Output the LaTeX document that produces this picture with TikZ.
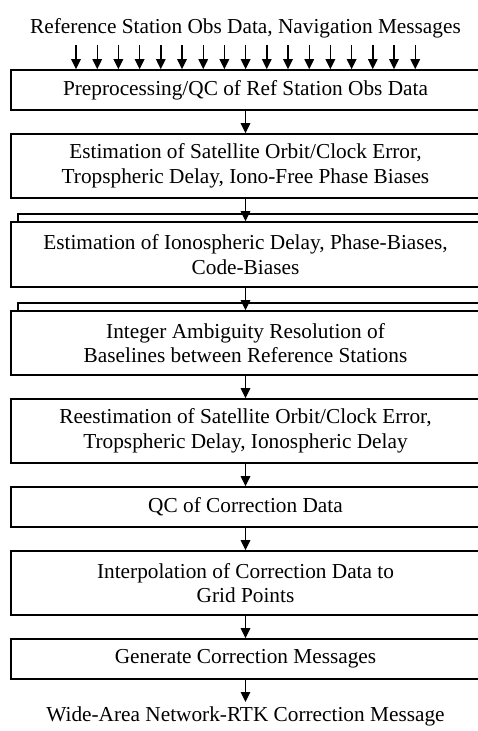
\documentclass[tikz,border=0pt]{standalone}
\usepackage{fontspec}
\setmainfont{Liberation Serif}
\usetikzlibrary{arrows.meta,positioning}

\begin{document}
\begin{tikzpicture}[x=1pt,y=-1pt,font=\fontsize{21.3}{24.5}\selectfont,
  boite/.style={draw,line width=1.6pt,fill=white,align=center,inner sep=0pt,minimum width=469pt},
  fleche/.style={line width=1.4pt,-{Triangle[length=10pt,width=9.5pt]}}]
\useasboundingbox (0,0) rectangle (478,731);
\def\cx{245.5}
\node[anchor=base] (entree) at (\cx,33) {Reference Station Obs Data, Navigation Messages};
\node[boite,minimum height=40pt] (preqc) at (\cx,90) {Preprocessing/QC of Ref Station Obs Data};
\node[boite,minimum height=64pt] (orbite) at (\cx,166) {Estimation of Satellite Orbit/Clock Error,\\ Tropspheric Delay, Iono-Free Phase Biases};
\node[boite,minimum height=65pt] (ionoA) at (\cx+7,246.5) {};
\node[boite,minimum height=65pt] (iono) at (\cx,254.5) {Estimation of Ionospheric Delay, Phase-Biases,\\ Code-Biases};
\node[boite,minimum height=64pt] (ambA) at (\cx+7,335) {};
\node[boite,minimum height=64pt] (amb) at (\cx,343) {Integer Ambiguity Resolution of\\ Baselines between Reference Stations};
\node[boite,minimum height=64pt] (reest) at (\cx,431) {Reestimation of Satellite Orbit/Clock Error,\\ Tropspheric Delay, Ionospheric Delay};
\node[boite,minimum height=40pt] (qc) at (\cx,507) {QC of Correction Data};
\node[boite,minimum height=64pt] (interp) at (\cx,583) {Interpolation of Correction Data to\\ Grid Points};
\node[boite,minimum height=40pt] (gen) at (\cx,659) {Generate Correction Messages};
\node[anchor=base] (sortie) at (\cx,721) {Wide-Area Network-RTK Correction Message};
\coordinate (bout) at (\cx,702);
\foreach \i in {0,...,16}{
  \coordinate (h\i) at (76+21.2*\i,45);
  \draw[fleche] (h\i) -- (h\i |- preqc.north);}
\draw[fleche] (preqc) -- (orbite);
\draw[fleche] (orbite) -- (iono);
\draw[fleche] (iono) -- (amb);
\draw[fleche] (amb) -- (reest);
\draw[fleche] (reest) -- (qc);
\draw[fleche] (qc) -- (interp);
\draw[fleche] (interp) -- (gen);
\draw[fleche] (gen) -- (bout);
\end{tikzpicture}
\end{document}
